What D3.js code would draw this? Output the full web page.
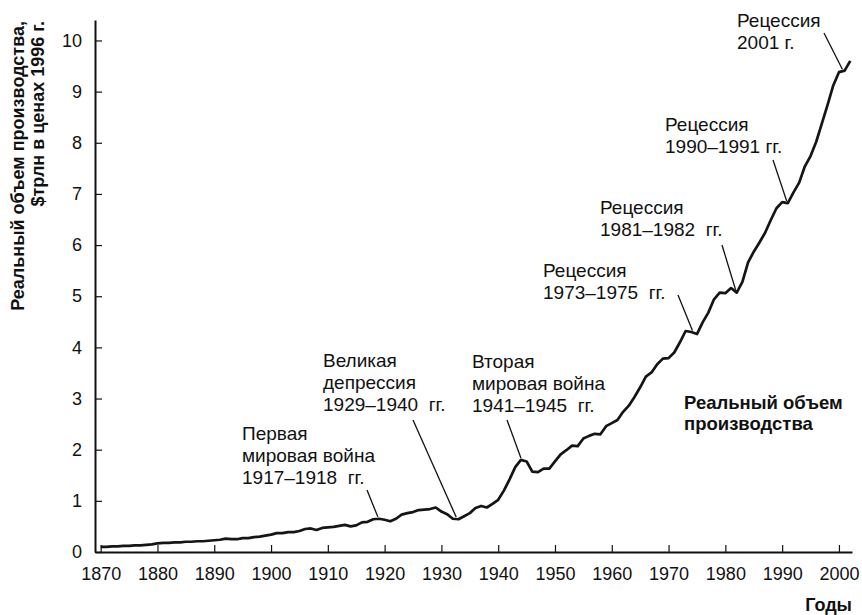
<!DOCTYPE html>
<html>
<head>
<meta charset="utf-8">
<script src="https://cdn.jsdelivr.net/npm/d3@7"></script>
<style>
  body { margin: 0; background: #fff; }
  text { font-family: "Liberation Sans", Arial, sans-serif; fill: #111; }
</style>
</head>
<body>
<script>
var years = d3.range(1870, 2003)
var output = [
  0.10, 0.10, 0.11, 0.11, 0.12, 0.12, 0.13, 0.13, 0.14, 0.15,
  0.17, 0.18, 0.18, 0.19, 0.19, 0.20, 0.20, 0.21, 0.21, 0.22,
  0.23, 0.24, 0.26, 0.25, 0.25, 0.27, 0.27, 0.29, 0.30, 0.32,
  0.34, 0.37, 0.37, 0.39, 0.39, 0.41, 0.45, 0.46, 0.43, 0.47,
  0.48, 0.49, 0.51, 0.53, 0.50, 0.52, 0.58, 0.59, 0.64, 0.65,
  0.63, 0.60, 0.65, 0.73, 0.76, 0.78, 0.82, 0.83, 0.84, 0.87,
  0.79, 0.74, 0.65, 0.64, 0.70, 0.76, 0.86, 0.90, 0.87, 0.94,
  1.02, 1.20, 1.42, 1.66, 1.80, 1.77, 1.57, 1.56, 1.63, 1.63,
  1.77, 1.91, 1.99, 2.08, 2.07, 2.22, 2.27, 2.31, 2.30, 2.46,
  2.52, 2.58, 2.74, 2.86, 3.03, 3.22, 3.43, 3.51, 3.67, 3.78,
  3.79, 3.90, 4.10, 4.32, 4.30, 4.26, 4.49, 4.68, 4.94, 5.07,
  5.06, 5.16, 5.07, 5.28, 5.66, 5.87, 6.05, 6.24, 6.49, 6.72,
  6.84, 6.82, 7.03, 7.22, 7.54, 7.74, 8.02, 8.38, 8.74, 9.12,
  9.38, 9.41, 9.60
]
var xTicks = d3.range(1870, 2001, 10)
var yTicks = d3.range(0, 11)

// events: label lines and the year the pointer hits
var eventLines = [
  ["Рецессия", "2001 г."],
  ["Рецессия", "1990–1991 гг."],
  ["Рецессия", "1981–1982  гг."],
  ["Рецессия", "1973–1975  гг."],
  ["Вторая", "мировая война", "1941–1945  гг."],
  ["Великая", "депрессия", "1929–1940  гг."],
  ["Первая", "мировая война", "1917–1918  гг."]
]
var eventYears = [2000.6, 1990.8, 1981.8, 1974.2, 1944, 1932.6, 1918.8]

var data = years.map(function(y, i) { return { year: y, val: output[i] } })

var width = 862, height = 615

var svg = d3.select("body").append("svg")
  .attr("width", width)
  .attr("height", height)

var x = d3.scaleLinear().domain([1869, 2002.3]).range([95, 852])
var y = d3.scaleLinear().domain([0, 10.4]).range([552, 20])

svg.append("g")
  .attr("transform", "translate(0 552)")
  .call(d3.axisBottom(x).tickValues(xTicks).tickFormat(d3.format("d"))
    .tickSizeInner(-7).tickSizeOuter(0).tickPadding(15))

svg.append("g")
  .attr("transform", "translate(95 0)")
  .call(d3.axisLeft(y).tickValues(yTicks)
    .tickSizeInner(-7).tickSizeOuter(0).tickPadding(13))

svg.selectAll(".domain").attr("stroke", "#111").attr("stroke-width", 2)
svg.selectAll(".tick line").attr("stroke", "#111").attr("stroke-width", 1.2)
svg.selectAll(".tick text")
  .style("font-family", '"Liberation Sans", Arial, sans-serif')
  .style("font-size", "18px")
  .attr("fill", "#111")

// y title
var yTitle = svg.append("text")
  .attr("transform", "translate(0 21) rotate(-90)")
  .attr("text-anchor", "end")
  .style("font-weight", "bold")
  .style("font-size", "18px")
yTitle.append("tspan").attr("x", 0).attr("y", 24).text("Реальный объем производства,")
yTitle.append("tspan").attr("x", 0).attr("y", 44).text("$трлн в ценах 1996 г.")

svg.append("text")
  .attr("x", 852)
  .attr("y", 611)
  .attr("text-anchor", "end")
  .style("font-weight", "bold")
  .style("font-size", "18px")
  .text("Годы")

var line = d3.line()
  .x(function(d) { return x(d.year) })
  .y(function(d) { return y(d.val) })

svg.append("path")
  .datum(data)
  .attr("d", line)
  .attr("fill", "none")
  .attr("stroke", "#151515")
  .attr("stroke-width", 2.7)
  .attr("stroke-linejoin", "round")

// series label
var serLabel = svg.append("text")
  .style("font-weight", "bold")
  .style("font-size", "18.5px")
serLabel.append("tspan").attr("x", 684).attr("y", 409).text("Реальный объем")
serLabel.append("tspan").attr("x", 684).attr("y", 430).text("производства")

// annotation layout: label corner, pointer start
var labelPos = [[737, 27], [665, 131], [600, 214], [543, 277], [472, 368], [323, 367], [242, 440]]
var pointerStart = [[824, 33], [773, 160], [722, 245], [678, 295], [507, 420], [413, 420], [367, 490]]

var valAt = function(yr) {
  var i = Math.floor(yr - 1870), t = yr - 1870 - i
  return output[i] + (output[Math.min(i + 1, output.length - 1)] - output[i]) * t
}

eventLines.forEach(function(lines, i) {
  var yr = eventYears[i]
  svg.append("line")
    .attr("x1", pointerStart[i][0])
    .attr("y1", pointerStart[i][1])
    .attr("x2", x(yr))
    .attr("y2", y(valAt(yr)) - 2)
    .attr("stroke", "#111")
    .attr("stroke-width", 1.3)

  var t = svg.append("text").style("font-size", "19px").style("white-space", "pre")
  lines.forEach(function(s, j) {
    t.append("tspan")
      .attr("x", labelPos[i][0])
      .attr("y", labelPos[i][1] + j * 22)
      .text(s)
  })
})
</script>
</body>
</html>
